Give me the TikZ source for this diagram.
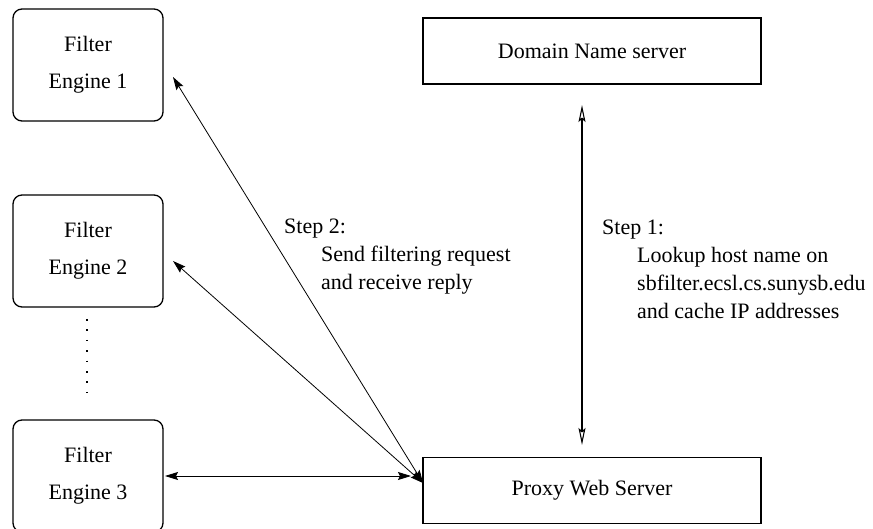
\documentclass[tikz,border=0pt]{standalone}
\usepackage{fontspec}
\setmainfont{Liberation Serif}
\usetikzlibrary{arrows.meta}
\begin{document}
\begin{tikzpicture}[x=1pt,y=-1pt,
  engine/.style={draw,line width=1.3pt,rounded corners=9pt,minimum width=150pt,minimum height=112pt,align=center,font=\fontsize{22}{37}\selectfont,inner sep=0pt},
  server/.style={draw,line width=1.3pt,minimum width=338pt,minimum height=66pt,font=\fontsize{22}{26}\selectfont,inner sep=0pt},
  lbl/.style={anchor=base west,inner sep=0pt,font=\fontsize{22}{28}\selectfont},
  solidarr/.style={line width=0.8pt,{Stealth[length=13pt,width=8pt,inset=2pt]}-{Stealth[length=13pt,width=8pt,inset=2pt]}},
  openarr/.style={line width=1.1pt,{Stealth[open,length=17pt,width=7pt,inset=3pt]}-{Stealth[open,length=17pt,width=7pt,inset=3pt]}}
]
\useasboundingbox (0,0) rectangle (873,529);
\node[engine] (fe1) at (88,65) {Filter\\Engine 1};
\node[engine] (fe2) at (88,251) {Filter\\Engine 2};
\node[engine] (fe3) at (88,476) {Filter\\Engine 3};
\node[server] (dns) at (592,51) {Domain Name server};
\node[server] (proxy) at (592,490.5) {Proxy Web Server};
\draw[line width=1.6pt,dash pattern=on 1.6pt off 8.8pt] (87,319) coordinate (d1) -- (87,395) coordinate (d2);
% step 2 connectors
\coordinate (p1) at (423,483);
\coordinate (p3) at (411,476);
\coordinate (e1) at (173,77);
\coordinate (e2) at (173,261);
\coordinate (e3) at (165,476);
\draw[solidarr] (e1) -- (p1);
\draw[solidarr] (e2) -- (p1);
\draw[solidarr] (e3) -- (p3);
% step 1 connector
\coordinate (v1) at (582,105);
\coordinate (v2) at (582,445);
\draw[openarr] (v1) -- (v2);
% labels
\node[lbl] (s2a) at (284,234) {Step 2:};
\node[lbl] (s2b) at (321,262) {Send filtering request};
\node[lbl] (s2c) at (321,290) {and receive reply};
\node[lbl] (s1a) at (602,235) {Step 1:};
\node[lbl] (s1b) at (637,263) {Lookup host name on};
\node[lbl] (s1c) at (637,291) {sbfilter.ecsl.cs.sunysb.edu};
\node[lbl] (s1d) at (637,319) {and cache IP addresses};
\end{tikzpicture}
\end{document}
